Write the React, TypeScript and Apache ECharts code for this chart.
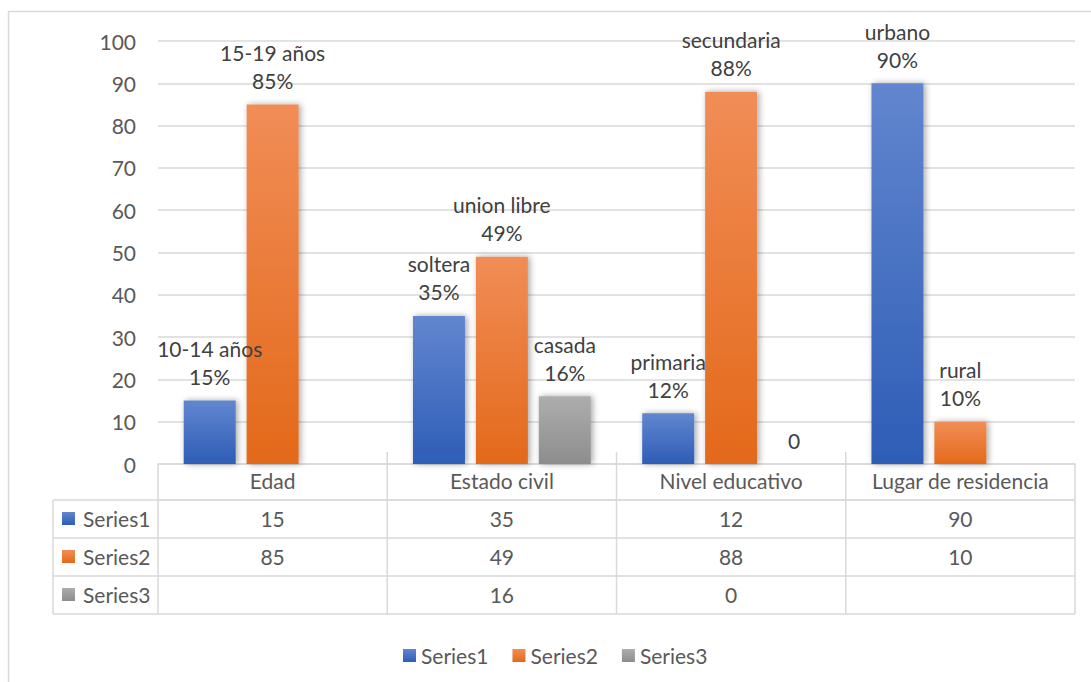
import React, { useEffect, useRef } from "react";
import * as echarts from "echarts";

// Chart data
const categories = ["Edad", "Estado civil", "Nivel educativo", "Lugar de residencia"];
const seriesNames = ["Series1", "Series2", "Series3"];
const series1 = [15, 35, 12, 90];
const series2 = [85, 49, 88, 10];
const series3: (number | null)[] = [null, 16, 0, null];
const series1Labels = ["10-14 años", "soltera", "primaria", "urbano"];
const series2Labels = ["15-19 años", "union libre", "secundaria", "rural"];
const series3Labels = ["", "casada", "", ""];
const yTicks = { min: 0, max: 100, step: 10 };

// Layout
const W = 1091;
const H = 682;
const GRID_L = 158;
const GRID_R = 1075;
const GRID_T = 41;
const GRID_B = 464;
const HEADER_H = 36;
const ROW_H = 38;
const KEY_COL_L = 53;
const FONT = "Lato";
const TEXT = "#595959";
const LINE = "#d9d9d9";

const grad = (top: string, bottom: string) => ({
  type: "linear",
  x: 0,
  y: 0,
  x2: 0,
  y2: 1,
  colorStops: [
    { offset: 0, color: top },
    { offset: 1, color: bottom },
  ],
});

const fills = [
  grad("#6286cf", "#2e5db6"),
  grad("#f18d57", "#e3691a"),
  grad("#adadad", "#8d8d8d"),
];

function makeLabel(names: string[]) {
  return {
    show: true,
    position: "top",
    distance: 10,
    fontFamily: FONT,
    fontSize: 21,
    lineHeight: 28,
    color: "#404040",
    formatter: (p: any) =>
      names[p.dataIndex] ? `${names[p.dataIndex]}\n${p.value}%` : `${p.value}`,
  };
}

function buildTable() {
  const els: any[] = [];
  const catW = (GRID_R - GRID_L) / categories.length;
  const rowsTop = GRID_B + HEADER_H;
  const tableBottom = rowsTop + ROW_H * seriesNames.length;
  const line = (x1: number, y1: number, x2: number, y2: number) => ({
    type: "line",
    silent: true,
    shape: { x1, y1, x2, y2 },
    style: { stroke: LINE, lineWidth: 1.5 },
  });
  const text = (t: string, x: number, y: number, align: string) => ({
    type: "text",
    silent: true,
    x,
    y,
    style: {
      text: t,
      font: `21px ${FONT}`,
      fill: TEXT,
      textAlign: align,
      align,
      textVerticalAlign: "middle",
      verticalAlign: "middle",
    },
  });

  // header bottom and row separators
  els.push(line(GRID_L, rowsTop, GRID_R, rowsTop));
  for (let r = 0; r <= seriesNames.length; r++) {
    const y = rowsTop + ROW_H * r;
    els.push(line(KEY_COL_L, y, GRID_R, y));
  }
  // vertical lines
  els.push(line(KEY_COL_L, rowsTop, KEY_COL_L, tableBottom));
  for (let c = 0; c <= categories.length; c++) {
    const x = GRID_L + catW * c;
    const inner = c > 0 && c < categories.length;
    els.push(line(x, inner ? GRID_B - 12 : GRID_B, x, tableBottom));
  }
  // header texts
  categories.forEach((cat, i) => {
    els.push(text(cat, GRID_L + catW * (i + 0.5), GRID_B + HEADER_H / 2 - 2, "center"));
  });
  // rows
  const rows = [series1, series2, series3];
  seriesNames.forEach((name, r) => {
    const cy = rowsTop + ROW_H * (r + 0.5) - 1;
    els.push({
      type: "rect",
      silent: true,
      shape: { x: KEY_COL_L + 9, y: cy - 6, width: 13, height: 13 },
      style: { fill: fills[r] },
    });
    els.push(text(name, KEY_COL_L + 30, cy, "left"));
    rows[r].forEach((v, i) => {
      if (v === null || v === undefined) return;
      els.push(text(String(v), GRID_L + catW * (i + 0.5), cy, "center"));
    });
  });
  return els;
}

export default function App() {
  const ref = useRef<HTMLDivElement>(null);
  useEffect(() => {
    if (!ref.current) return;
    const chart = echarts.init(ref.current, undefined, { renderer: "svg" });
    const barCommon = {
      type: "bar",
      barWidth: 52,
      barGap: "21%",
    };
    const shadow = {
      shadowBlur: 6,
      shadowColor: "rgba(0,0,0,0.35)",
      shadowOffsetX: 2,
      shadowOffsetY: 0,
    };
    chart.setOption({
      animation: false,
      backgroundColor: "#ffffff",
      grid: {
        left: GRID_L,
        right: W - GRID_R,
        top: GRID_T,
        bottom: H - GRID_B,
      },
      legend: {
        data: seriesNames,
        left: 398,
        top: 640,
        icon: "rect",
        itemWidth: 13,
        itemHeight: 13,
        itemGap: 24,
        textStyle: { fontFamily: FONT, fontSize: 21, color: TEXT },
      },
      xAxis: {
        type: "category",
        data: categories,
        axisLabel: { show: false },
        axisTick: { show: false },
        axisLine: { show: true, lineStyle: { color: LINE, width: 1.5 } },
      },
      yAxis: {
        type: "value",
        min: yTicks.min,
        max: yTicks.max,
        interval: yTicks.step,
        axisLine: { show: false },
        axisTick: { show: false },
        axisLabel: { margin: 22, fontFamily: FONT, fontSize: 21, color: TEXT },
        splitLine: { lineStyle: { color: LINE, width: 1.5 } },
      },
      series: [
        {
          ...barCommon,
          name: seriesNames[0],
          data: series1,
          itemStyle: { color: fills[0], ...shadow },
          label: makeLabel(series1Labels),
        },
        {
          ...barCommon,
          name: seriesNames[1],
          data: series2,
          itemStyle: { color: fills[1], ...shadow },
          label: makeLabel(series2Labels),
        },
        {
          ...barCommon,
          name: seriesNames[2],
          data: series3,
          itemStyle: { color: fills[2], ...shadow },
          label: makeLabel(series3Labels),
        },
      ],
      graphic: [
        {
          type: "rect",
          silent: true,
          z: -10,
          shape: { x: 8.5, y: 11.5, width: 1200, height: 800 },
          style: { fill: "none", stroke: LINE, lineWidth: 1.5 },
        },
        ...buildTable(),
      ],
    });
    return () => chart.dispose();
  }, []);
  return (
    <div
      ref={ref}
      style={{ position: "absolute", left: 0, top: 0, width: W, height: H }}
    />
  );
}
